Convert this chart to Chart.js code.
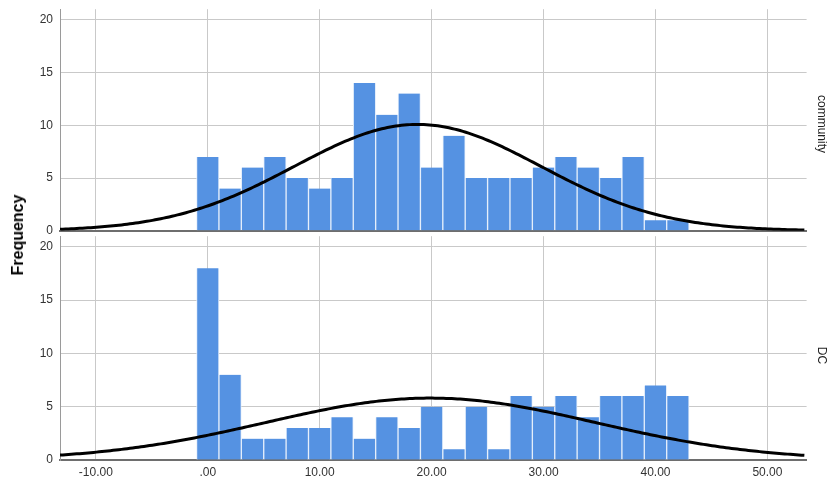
<!DOCTYPE html>
<html>
<head>
<meta charset="utf-8">
<script src="https://cdn.jsdelivr.net/npm/chart.js@4/dist/chart.umd.min.js"></script>
<style>
  html, body { margin: 0; padding: 0; background: #fff; }
  body { width: 838px; height: 478px; position: relative; overflow: hidden; }
  canvas { position: absolute; left: 0; }
  #top { top: -5px; }
  #bottom { top: 222px; }
  #ylabel {
    position: absolute; left: 18px; top: 235px;
    transform: translate(-50%, -50%) rotate(-90deg);
    font: bold 16px "Liberation Sans", Arial, sans-serif; color: #000;
    white-space: nowrap;
  }
</style>
</head>
<body>
<canvas id="top" width="838" height="250"></canvas>
<canvas id="bottom" width="838" height="257"></canvas>
<div id="ylabel">Frequency</div>
<script>
// Bin centres (bin width 2)
const binCenters = [0, 2, 4, 6, 8, 10, 12, 14, 16, 18, 20, 22, 24, 26, 28, 30, 32, 34, 36, 38, 40, 42];
const binWidth = 2;

// Counts per bin for each group
const communityCounts = [7, 4, 6, 7, 5, 4, 5, 14, 11, 13, 6, 9, 5, 5, 5, 6, 7, 6, 5, 7, 1, 1];
const dcCounts = [18, 8, 2, 2, 3, 3, 4, 2, 4, 3, 5, 1, 5, 1, 6, 5, 6, 4, 6, 6, 7, 6];

// Normal fit parameters for each group
const communityMean = 18.75, communitySD = 11.0;
const dcMean = 19.9, dcSD = 14.7;

// Axis ticks and range
const xTicks = [-10, 0, 10, 20, 30, 40, 50];
const yTicks = [0, 5, 10, 15, 20];
const xMin = -13.2, xMax = 53.5, yMax = 21;

const FONT = '"Liberation Sans", Arial, sans-serif';

function normalCurve(counts, mean, sd) {
  const n = counts.reduce((a, b) => a + b, 0);
  const pts = [];
  for (let x = xMin; x <= xMax + 1e-9; x += 0.25) {
    const z = (x - mean) / sd;
    pts.push({ x: x, y: n * binWidth * Math.exp(-0.5 * z * z) / (sd * Math.sqrt(2 * Math.PI)) });
  }
  return pts;
}

function makePanel(canvasId, counts, mean, sd, label, showXLabels, padTop, xHeight) {
  new Chart(document.getElementById(canvasId), {
    data: {
      datasets: [
        {
          type: 'line',
          data: normalCurve(counts, mean, sd),
          borderColor: '#000',
          borderWidth: 3,
          pointRadius: 0,
          tension: 0,
          order: 0
        },
        {
          type: 'bar',
          data: binCenters.map((c, i) => ({ x: c, y: counts[i] })),
          backgroundColor: '#5592e2',
          borderColor: '#e4eefb',
          borderWidth: { left: 1, right: 1, top: 0, bottom: 0 },
          borderSkipped: false,
          barPercentage: 1,
          categoryPercentage: 1,
          order: 1
        }
      ]
    },
    options: {
      responsive: false,
      animation: false,
      events: [],
      layout: { padding: { top: padTop, left: 0, right: 0, bottom: 0 } },
      plugins: {
        legend: { display: false },
        tooltip: { enabled: false },
        title: {
          display: true,
          text: label,
          position: 'right',
          color: '#222',
          font: { family: FONT, size: 12, weight: 'normal' },
          padding: { top: 9, bottom: 8 }
        }
      },
      scales: {
        x: {
          type: 'linear',
          min: xMin,
          max: xMax,
          offset: false,
          afterBuildTicks: s => { s.ticks = xTicks.map(v => ({ value: v })); },
          afterFit: s => { s.height = xHeight; },
          grid: { color: '#c9c9c9', lineWidth: 1, drawTicks: false, offset: false },
          border: { color: '#6e6e6e', width: 2 },
          ticks: {
            display: showXLabels,
            padding: 5,
            color: '#333',
            font: { family: FONT, size: 12 },
            maxRotation: 0,
            callback: v => (v === 0 ? '.00' : v.toFixed(2))
          }
        },
        y: {
          type: 'linear',
          min: 0,
          max: yMax,
          afterBuildTicks: s => { s.ticks = yTicks.map(v => ({ value: v })); },
          afterFit: s => { s.width = 60; },
          grid: { color: '#c9c9c9', lineWidth: 1, drawTicks: false },
          border: { color: '#9a9a9a', width: 1 },
          ticks: {
            padding: 7,
            color: '#333',
            font: { family: FONT, size: 12 }
          }
        }
      }
    }
  });
}

makePanel('top', communityCounts, communityMean, communitySD, 'community', false, 8, 6);
makePanel('bottom', dcCounts, dcMean, dcSD, 'DC', true, 10, 19);
</script>
</body>
</html>
